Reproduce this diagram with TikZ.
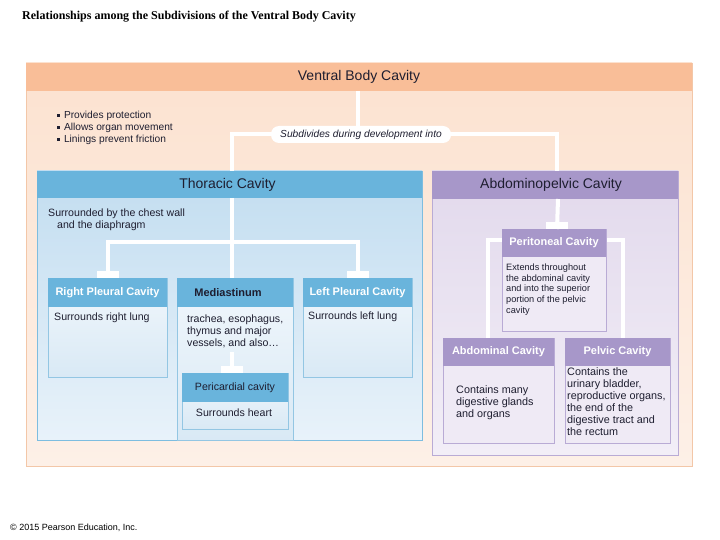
\documentclass[tikz,border=0pt]{standalone}
\usepackage{fontspec}
\setmainfont{Liberation Sans}
\newfontfamily\titlefont{Liberation Serif}
\definecolor{orH}{HTML}{F9BE98}
\definecolor{orB1}{HTML}{FCE2D0}
\definecolor{orB2}{HTML}{FDF0E7}
\definecolor{orL}{HTML}{F3C7A8}
\definecolor{blH}{HTML}{69B4DC}
\definecolor{blB1}{HTML}{C2DDF0}
\definecolor{blB2}{HTML}{E8F2FA}
\definecolor{blL}{HTML}{7DBDE0}
\definecolor{cbB1}{HTML}{F1F7FC}
\definecolor{cbB2}{HTML}{D9E9F5}
\definecolor{cbL}{HTML}{93C6E3}
\definecolor{puH}{HTML}{A797C9}
\definecolor{puB1}{HTML}{E2D9EC}
\definecolor{puB2}{HTML}{F2EEF7}
\definecolor{puL}{HTML}{B9ABD5}
\definecolor{cpB}{HTML}{EFEAF5}
\definecolor{dk}{HTML}{1E1E30}
\newcommand\bulmark{\rule[1.8pt]{2.8pt}{2.8pt}\hspace{4pt}}
\begin{document}
\begin{tikzpicture}[x=1pt,y=-1pt,
  boxx/.style={anchor=north west,inner sep=0pt,outer sep=0pt},
  wline/.style={draw=white,line width=4pt},
  bigtxt/.style={font=\fontsize{14}{16}\selectfont,text=dk},
  chw/.style={font=\bfseries\fontsize{11}{13}\selectfont,text=white},
  chd/.style={font=\fontsize{10.6}{12}\selectfont,text=dk},
  bodytxt/.style={font=\fontsize{10.6}{12}\selectfont,text=dk,align=left,inner sep=0pt,anchor=north west},
  ]
\useasboundingbox[fill=white] (0,0) rectangle (720,540);
% title
\node[anchor=west,inner sep=0pt,font=\titlefont\bfseries\fontsize{12}{14}\selectfont] (title) at (22,17) {Relationships among the Subdivisions of the Ventral Body Cavity};
% outer box
\node[boxx,draw=orL,top color=orB1,bottom color=orB2,minimum width=666pt,minimum height=403pt] (vbc) at (26,63) {};
\node[boxx,fill=orH,minimum width=666pt,minimum height=28pt,bigtxt] (vbch) at (26,63) {Ventral Body Cavity};
\node[bodytxt,font=\fontsize{10.2}{12}\selectfont] (bul) at (57,110.8) {\bulmark Provides protection\\ \bulmark Allows organ movement\\ \bulmark Linings prevent friction};
% thoracic and abdominopelvic
\node[boxx,draw=blL,top color=blB1,bottom color=blB2,minimum width=385pt,minimum height=269pt] (thor) at (37,171) {};
\node[boxx,fill=blH,minimum width=385pt,minimum height=27pt] (thorh) at (37,171) {};
\node[bigtxt] at ([xshift=-2pt]thorh.center) {Thoracic Cavity};
\node[boxx,draw=puL,top color=puB1,bottom color=puB2,minimum width=246pt,minimum height=284pt] (abp) at (432,171) {};
\node[boxx,fill=puH,minimum width=246pt,minimum height=28pt] (abph) at (432,171) {};
\node[bigtxt] at ([xshift=-4pt]abph.center) {Abdominopelvic Cavity};
% top connectors
\coordinate (split) at (358,134);
\draw[wline] (vbch.south -| split) -- (split);
\draw[wline] ([xshift=2.5pt]thorh.north) |- (split) -| ([xshift=2pt]abph.north);
\node[fill=white,rounded corners=8pt,minimum width=180pt,minimum height=17pt,inner sep=0pt,font=\itshape\fontsize{10.2}{12}\selectfont,text=dk] (pill) at (361,134.5) {Subdivides during development into};
\node[bodytxt] (thtxt) at (48,208.8) {Surrounded by the chest wall\\ \hspace{9pt}and the diaphragm};
% thoracic children
\node[boxx,draw=cbL,top color=cbB1,bottom color=cbB2,minimum width=119pt,minimum height=99pt] (rpc) at (48,278) {};
\node[boxx,fill=blH,minimum width=119pt,minimum height=29pt,chw] (rpch) at (48,278) {Right Pleural Cavity};
\node[bodytxt] at (54,312.8) {Surrounds right lung};
\node[boxx,draw=cbL,top color=cbB1,bottom color=cbB2,minimum width=116pt,minimum height=162pt] (med) at (177,278) {};
\node[boxx,fill=blH,minimum width=116pt,minimum height=29pt] (medh) at (177,278) {};
\node[chd,font=\bfseries\fontsize{11}{13}\selectfont] at ([xshift=-7pt]medh.center) {Mediastinum};
\node[bodytxt] (medtxt) at (187,314.8) {trachea, esophagus,\\ thymus and major\\ vessels, and also\dots};
\node[boxx,draw=cbL,top color=cbB1,bottom color=cbB2,minimum width=109pt,minimum height=99pt] (lpc) at (303,278) {};
\node[boxx,fill=blH,minimum width=109pt,minimum height=29pt,chw] (lpch) at (303,278) {Left Pleural Cavity};
\node[bodytxt] at (308,311.8) {Surrounds left lung};
% thoracic connectors
\coordinate (tbar) at (232,242);
\draw[wline] (thorh.south -| tbar) -- (med.north -| tbar);
\draw[wline] (rpc.north) |- (tbar) -| (lpc.north);
\foreach \n in {rpc,lpc}
  \fill[white] ([xshift=-11pt]\n.north) rectangle ([xshift=11pt,yshift=7pt]\n.north);
% pericardial
\node[boxx,draw=cbL,top color=cbB1,bottom color=cbB2,minimum width=106pt,minimum height=56pt] (peri) at (182,373) {};
\node[boxx,fill=blH,minimum width=106pt,minimum height=29pt,chd] (perih) at (182,373) {Pericardial cavity};
\node[chd] at (234,413) {Surrounds heart};
\coordinate (mline) at (232,352);
\draw[wline] (mline) -- (peri.north -| mline);
\fill[white] ([xshift=-11pt]peri.north -| mline) rectangle ([xshift=11pt,yshift=7pt]peri.north -| mline);
% abdominopelvic children
\node[boxx,draw=puL,fill=cpB,minimum width=111pt,minimum height=105pt] (abd) at (443,338) {};
\node[boxx,fill=puH,minimum width=111pt,minimum height=28pt,chw] (abdh) at (443,338) {Abdominal Cavity};
\node[bodytxt,font=\fontsize{10.8}{12}\selectfont] at (456,385.8) {Contains many\\ digestive glands\\ and organs};
\node[boxx,draw=puL,fill=cpB,minimum width=105pt,minimum height=105pt] (pel) at (565,338) {};
\node[boxx,fill=puH,minimum width=105pt,minimum height=28pt,chw] (pelh) at (565,338) {Pelvic Cavity};
\node[bodytxt,font=\fontsize{10.8}{12}\selectfont] at (567,367.8) {Contains the\\ urinary bladder,\\ reproductive organs,\\ the end of the\\ digestive tract and\\ the rectum};
\coordinate (pbar) at (556,240);
\draw[wline] ([xshift=-10.5pt]abd.north) |- (pbar) -| ([xshift=5.5pt]pel.north);
% peritoneal
\node[boxx,draw=puL,fill=cpB,minimum width=104pt,minimum height=102pt] (per) at (502,229) {};
\node[boxx,fill=puH,minimum width=104pt,minimum height=28pt,chw] (perh) at (502,229) {Peritoneal Cavity};
\node[bodytxt,font=\fontsize{9.2}{10.75}\selectfont] at (506,263.6) {Extends throughout\\ the abdominal cavity\\ and into the superior\\ portion of the pelvic\\ cavity};
\draw[wline] ([xshift=3pt]abph.south) -- ([xshift=3pt]per.north);
\fill[white] ([xshift=-8pt]per.north) rectangle ([xshift=14pt,yshift=7pt]per.north);
% copyright
\node[anchor=west,inner sep=0pt,font=\fontsize{9}{10}\selectfont] (copy) at (10,528) {\textcopyright\ 2015 Pearson Education, Inc.};
\end{tikzpicture}
\end{document}
